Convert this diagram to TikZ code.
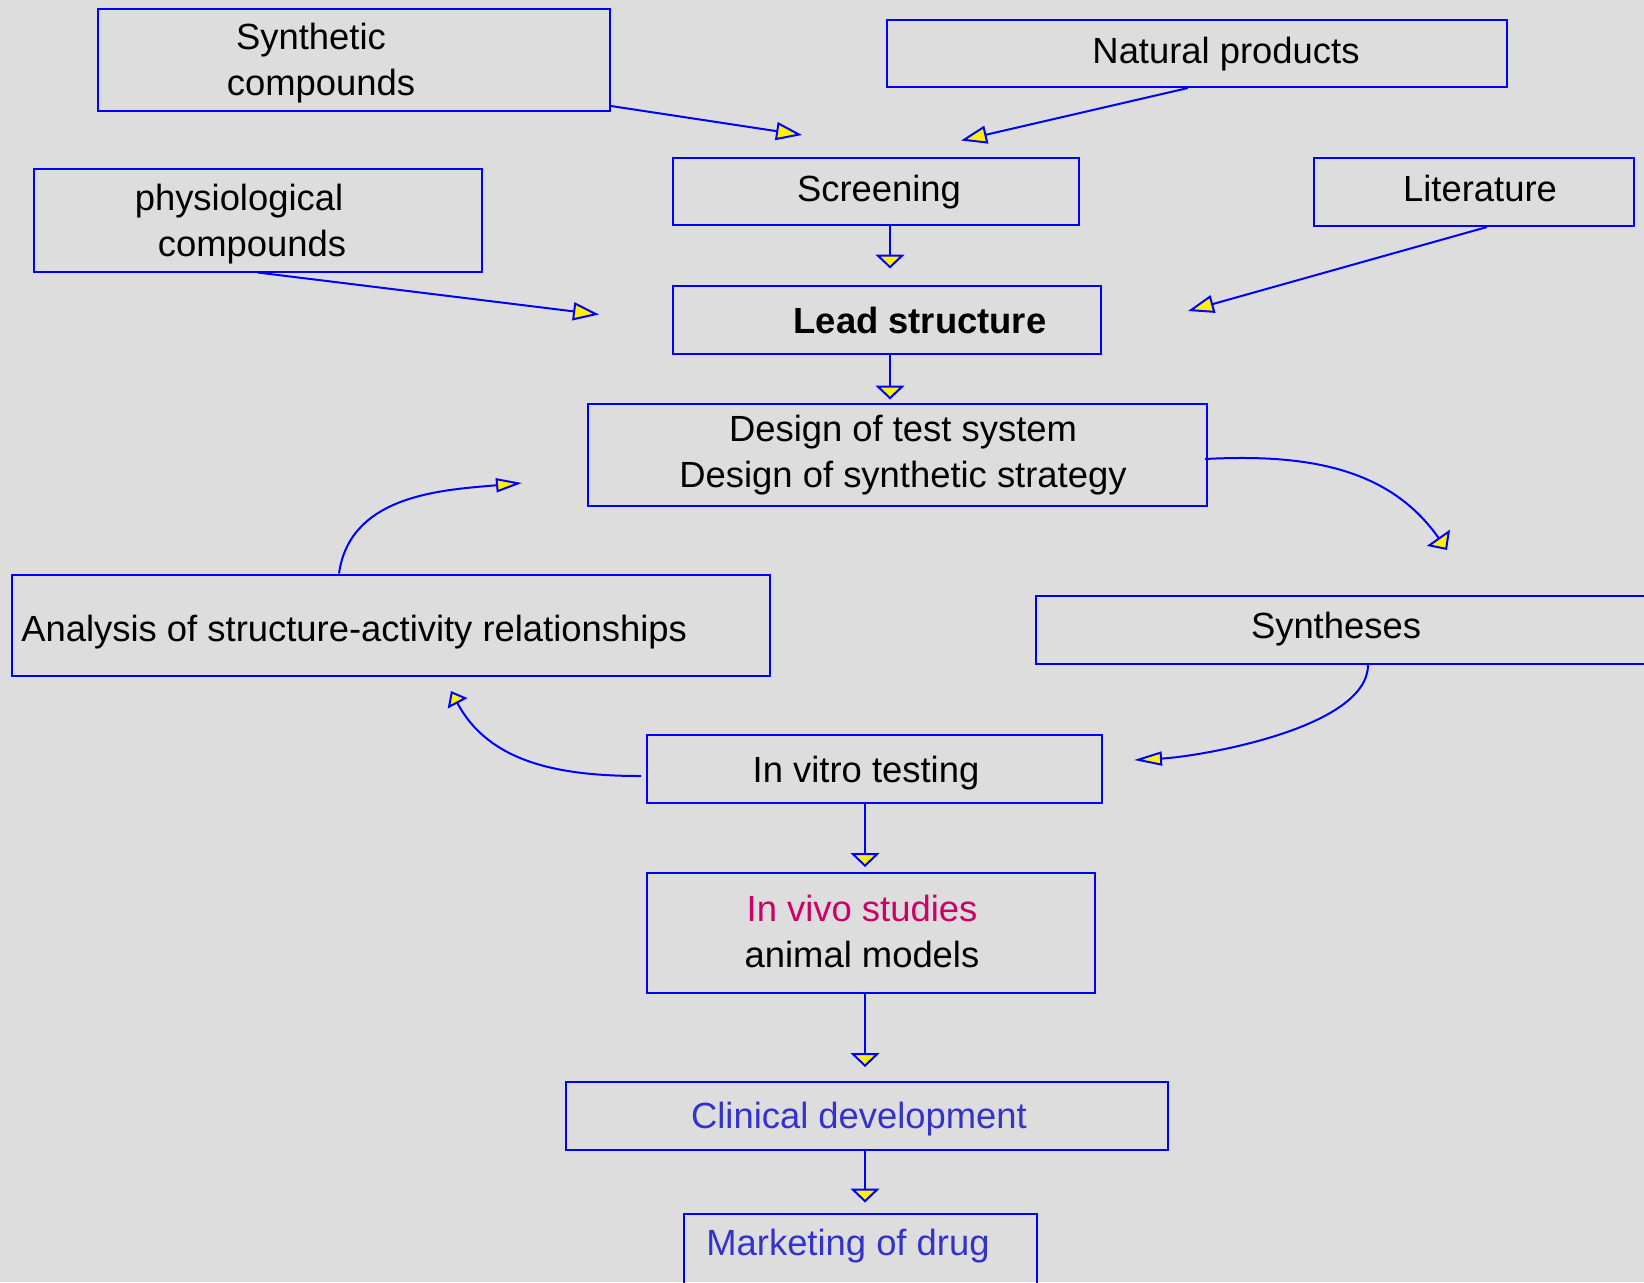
\documentclass[tikz,border=0pt]{standalone}
\usepackage{fontspec}
\setmainfont{Liberation Sans}
\usetikzlibrary{arrows.meta,calc,fit}
\definecolor{bg}{RGB}{221,221,221}
\definecolor{bblue}{RGB}{0,0,255}
\definecolor{vivo}{RGB}{204,0,102}
\definecolor{clin}{RGB}{51,51,204}
\begin{document}
\begin{tikzpicture}[x=0.5pt,y=-0.5pt,
  box/.style={draw=bblue,line width=1pt,inner sep=0pt},
  txt/.style={font=\fontsize{18.2pt}{23pt}\selectfont,inner sep=0pt,align=center},
  con/.style={draw=bblue,line width=1pt},
  yarrow/.style 2 args={con,-{Triangle[width=#1,length=#2,fill=yellow]}}
]
\fill[bg] (0,0) rectangle (1644,1282);
\useasboundingbox (0,0) rectangle (1644,1282);

% boxes
\node[box,fit={(97.5,9.4) (610,111)}] (syn) {};
\node[box,fit={(887,20) (1507,87)}] (nat) {};
\node[box,fit={(673,158) (1079,225)}] (scr) {};
\node[box,fit={(1314,158) (1634,226)}] (lit) {};
\node[box,fit={(33.5,169) (482,271.5)}] (phy) {};
\node[box,fit={(673,286) (1101,354)}] (lead) {};
\node[box,fit={(588,404) (1207,506)}] (design) {};
\node[box,fit={(11.5,574.5) (770,676)}] (sar) {};
\node[box,fit={(1036,595.5) (1700,663.7)}] (synth) {};
\node[box,fit={(647,735) (1102,803)}] (invitro) {};
\node[box,fit={(647,873) (1094.5,993)}] (invivo) {};
\node[box,fit={(566,1082) (1168,1150)}] (clin) {};
\node[box,fit={(683.6,1214) (1037,1320)}] (mkt) {};

% texts
\node[txt] (tsyn) at (321,63) {Synthetic\hspace*{10pt}\\compounds};
\node[txt] (tnat) at (1226,54) {Natural products};
\node[txt] (tscr) at (879,192) {Screening};
\node[txt] (tlit) at (1480,188) {Literature};
\node[txt] (tphy) at (252,224) {physiological\hspace*{13pt}\\compounds};
\node[txt,font=\fontsize{18.2pt}{23pt}\selectfont\bfseries] (tlead) at (920,320) {Lead structure};
\node[txt] (tdesign) at (903,455) {Design of test system\\Design of synthetic strategy};
\node[txt,anchor=west] (tsar) at (21,632) {Analysis of structure-activity relationships};
\node[txt] (tsynth) at (1336,629) {Syntheses};
\node[txt] (tinvitro) at (866,773) {In vitro testing};
\node[txt] (tinvivo) at (862,931) {\textcolor{vivo}{In vivo studies}\\animal models};
\node[txt,text=clin] (tclin) at (859,1119) {Clinical development};
\node[txt,text=clin] (tmkt) at (848,1246.5) {Marketing of drug};

% arrow end points
\coordinate (e1) at (802,135);
\coordinate (e2) at (961,140.5);
\coordinate (e3) at (890,268.5);
\coordinate (e4) at (599,314.5);
\coordinate (e5) at (1188,311);
\coordinate (e6) at (890,399.5);
\coordinate (e7) at (1447,550);
\coordinate (e8) at (522,483);
\coordinate (e9) at (1134,760);
\coordinate (e10) at (451,691);
\coordinate (e11) at (865,867);
\coordinate (e12) at (865,1067);
\coordinate (e13) at (865,1202.5);

% connectors
\draw[yarrow={9pt}{13pt}] ($(syn.south east)+(0,-6)$) -- (e1);
\draw[yarrow={9pt}{13pt}] ($(nat.south)+(-9,0)$) -- (e2);
\draw[yarrow={14.5pt}{7pt}] (e3 |- scr.south) -- (e3);
\draw[yarrow={9pt}{13pt}] (phy.south) -- (e4);
\draw[yarrow={9pt}{13pt}] ($(lit.south)+(13,0)$) -- (e5);
\draw[yarrow={14.5pt}{7pt}] (e6 |- lead.south) -- (e6);
\draw[yarrow={14pt}{7.5pt}] ($(design.east)+(-3,4)$) to[out=3,in=125] (e7);
\draw[yarrow={7pt}{13pt}] (sar.north -| 339,0) to[out=82,in=185] (e8);
\draw[yarrow={7pt}{14pt}] (synth.south -| 1368,0) to[out=-90,in=3,looseness=0.65] (e9);
\draw[yarrow={11pt}{7pt}] ($(invitro.west)+(-5,7)$) to[out=180,in=-62] (e10);
\draw[yarrow={14.5pt}{7pt}] (e11 |- invitro.south) -- (e11);
\draw[yarrow={14.5pt}{7pt}] (e12 |- invivo.south) -- (e12);
\draw[yarrow={14.5pt}{7pt}] (e13 |- clin.south) -- (e13);
\end{tikzpicture}
\end{document}
